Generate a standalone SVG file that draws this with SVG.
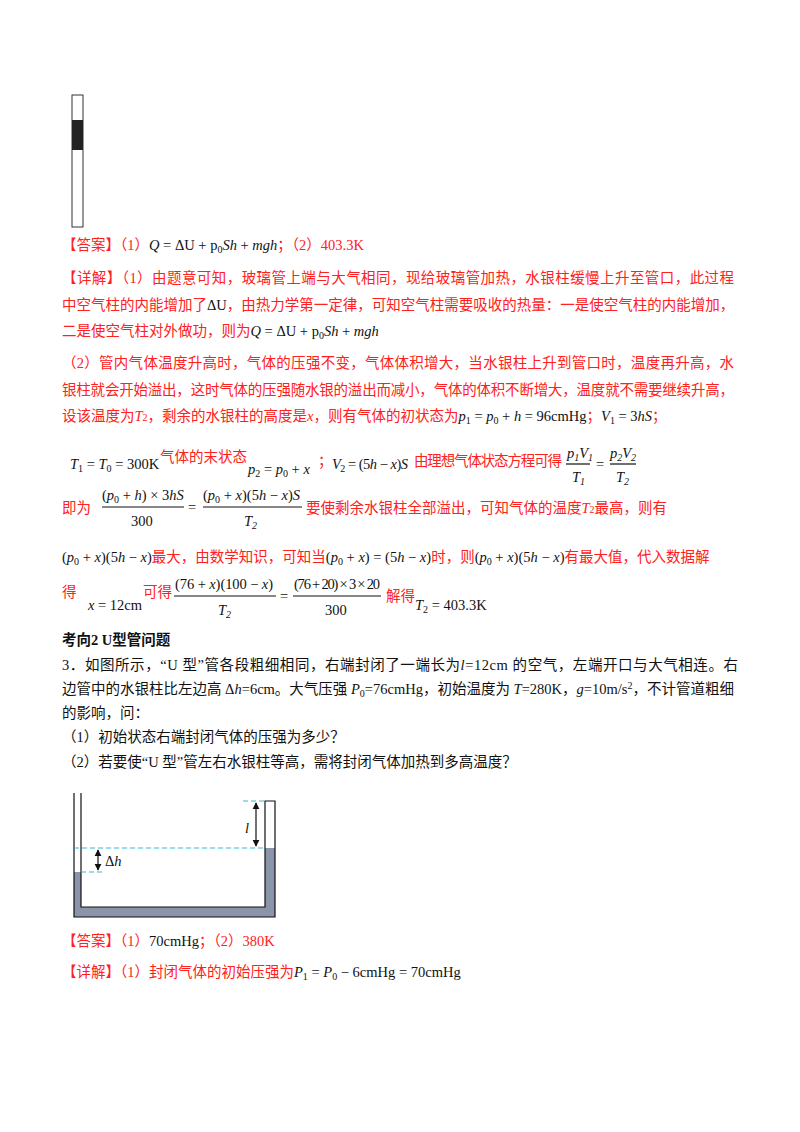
<svg xmlns="http://www.w3.org/2000/svg" width="800" height="1132" viewBox="0 0 800 1132">
<defs>
<style>
text{font-family:"Liberation Serif","Noto Sans CJK SC",serif;font-size:14.5px}
.r{fill:#ff2020}
.k{fill:#111}
.m{font-family:"Liberation Serif",serif;fill:#111}
.i{font-style:italic}
.b{font-weight:bold}
.sm{font-size:10px}
.dash{stroke:#3bb6d6;stroke-width:1;stroke-dasharray:5,3;fill:none}
.ln{stroke:#111;stroke-width:1.2;fill:none}
</style>
<marker id="ah" viewBox="0 0 10 10" refX="9" refY="5" markerWidth="6" markerHeight="6" orient="auto-start-reverse"><path d="M0,0L10,5L0,10z" fill="#111"/></marker>
</defs>
<rect width="800" height="1132" fill="#fff"/>
<g id="tube1">
<rect x="72" y="95" width="11" height="132" fill="#fff" stroke="#333" stroke-width="1"/>
<rect x="72" y="120" width="11" height="30" fill="#222"/>
</g>
<g id="text1">
<text x="62" y="250" class="r">【答案】（1）<tspan class="m i">Q</tspan><tspan class="m"> = ΔU + p</tspan><tspan class="m sm" dy="3">0</tspan><tspan class="m i" dy="-3">Sh</tspan><tspan class="m"> + </tspan><tspan class="m i">mgh</tspan>；（2）403.3K</text>
<text x="62" y="283" class="r" textLength="672">【详解】（1）由题意可知，玻璃管上端与大气相同，现给玻璃管加热，水银柱缓慢上升至管口，此过程</text>
<text x="62" y="310" class="r">中空气柱的内能增加了<tspan class="m">ΔU</tspan>，由热力学第一定律，可知空气柱需要吸收的热量：一是使空气柱的内能增加，</text>
<text x="62" y="336" class="r">二是使空气柱对外做功，则为<tspan class="m i">Q</tspan><tspan class="m"> = ΔU + p</tspan><tspan class="m sm" dy="3">0</tspan><tspan class="m i" dy="-3">Sh</tspan><tspan class="m"> + </tspan><tspan class="m i">mgh</tspan></text>
<text x="62" y="368" class="r" textLength="672">（2）管内气体温度升高时，气体的压强不变，气体体积增大，当水银柱上升到管口时，温度再升高，水</text>
<text x="62" y="395" class="r" textLength="672">银柱就会开始溢出，这时气体的压强随水银的溢出而减小，气体的体积不断增大，温度就不需要继续升高，</text>
<text x="62" y="421" class="r">设该温度为<tspan class="i">T</tspan><tspan class="sm">2</tspan>，剩余的水银柱的高度是<tspan class="i">x</tspan>，则有气体的初状态为<tspan class="m i">p</tspan><tspan class="m sm" dy="3">1</tspan><tspan class="m" dy="-3"> = </tspan><tspan class="m i">p</tspan><tspan class="m sm" dy="3">0</tspan><tspan class="m" dy="-3"> + </tspan><tspan class="m i">h</tspan><tspan class="m"> = 96cmHg</tspan>；<tspan class="m i">V</tspan><tspan class="m sm" dy="3">1</tspan><tspan class="m" dy="-3"> = 3</tspan><tspan class="m i">hS</tspan>；</text>
<text x="70" y="469" class="m"><tspan class="i">T</tspan><tspan class="sm" dy="3">1</tspan><tspan dy="-3"> = </tspan><tspan class="i">T</tspan><tspan class="sm" dy="3">0</tspan><tspan dy="-3"> = 300K</tspan></text>
<text x="160" y="462" class="r">气体的末状态</text>
<text x="248" y="474" class="m"><tspan class="i">p</tspan><tspan class="sm" dy="3">2</tspan><tspan dy="-3"> = </tspan><tspan class="i">p</tspan><tspan class="sm" dy="3">0</tspan><tspan dy="-3"> + </tspan><tspan class="i">x</tspan></text>
<text x="318" y="466" class="r">；</text>
<text x="332" y="469" class="m" textLength="76"><tspan class="i">V</tspan><tspan class="sm" dy="3">2</tspan><tspan dy="-3"> = (5</tspan><tspan class="i">h</tspan><tspan> − </tspan><tspan class="i">x</tspan><tspan>)</tspan><tspan class="i">S</tspan></text>
<text x="414" y="466" class="r" textLength="148">由理想气体状态方程可得</text>
<text x="567" y="458" class="m i">p<tspan class="sm" dy="3">1</tspan><tspan dy="-3">V</tspan><tspan class="sm" dy="3">1</tspan></text>
<line x1="566" y1="464" x2="590" y2="464" class="ln" stroke-width="0.8"/>
<text x="572" y="482" class="m i">T<tspan class="sm" dy="3">1</tspan></text>
<text x="596" y="469" class="m">=</text>
<text x="610" y="458" class="m i">p<tspan class="sm" dy="3">2</tspan><tspan dy="-3">V</tspan><tspan class="sm" dy="3">2</tspan></text>
<line x1="610" y1="464" x2="636" y2="464" class="ln" stroke-width="0.8"/>
<text x="616" y="482" class="m i">T<tspan class="sm" dy="3">2</tspan></text>

<text x="62" y="513" class="r">即为</text>
<text x="102" y="500" class="m">(<tspan class="i">p</tspan><tspan class="sm" dy="3">0</tspan><tspan dy="-3"> + </tspan><tspan class="i">h</tspan>) × 3<tspan class="i">hS</tspan></text>
<line x1="102" y1="507" x2="184" y2="507" class="ln" stroke-width="0.8"/>
<text x="131" y="526" class="m">300</text>
<text x="188" y="512" class="m">=</text>
<text x="203" y="500" class="m">(<tspan class="i">p</tspan><tspan class="sm" dy="3">0</tspan><tspan dy="-3"> + </tspan><tspan class="i">x</tspan>)(5<tspan class="i">h</tspan> − <tspan class="i">x</tspan>)<tspan class="i">S</tspan></text>
<line x1="203" y1="507" x2="302" y2="507" class="ln" stroke-width="0.8"/>
<text x="244" y="526" class="m i">T<tspan class="sm" dy="3">2</tspan></text>
<text x="306" y="513" class="r">要使剩余水银柱全部溢出，可知气体的温度<tspan class="i">T</tspan><tspan class="sm">2</tspan>最高，则有</text>

<text x="62" y="562" class="r"><tspan class="m">(</tspan><tspan class="m i">p</tspan><tspan class="m sm" dy="3">0</tspan><tspan class="m" dy="-3"> + </tspan><tspan class="m i">x</tspan><tspan class="m">)(5</tspan><tspan class="m i">h</tspan><tspan class="m"> − </tspan><tspan class="m i">x</tspan><tspan class="m">)</tspan>最大，由数学知识，可知当<tspan class="m">(</tspan><tspan class="m i">p</tspan><tspan class="m sm" dy="3">0</tspan><tspan class="m" dy="-3"> + </tspan><tspan class="m i">x</tspan><tspan class="m">) = (5</tspan><tspan class="m i">h</tspan><tspan class="m"> − </tspan><tspan class="m i">x</tspan><tspan class="m">)</tspan>时，则<tspan class="m">(</tspan><tspan class="m i">p</tspan><tspan class="m sm" dy="3">0</tspan><tspan class="m" dy="-3"> + </tspan><tspan class="m i">x</tspan><tspan class="m">)(5</tspan><tspan class="m i">h</tspan><tspan class="m"> − </tspan><tspan class="m i">x</tspan><tspan class="m">)</tspan>有最大值，代入数据解</text>

<text x="62" y="597" class="r">得</text>
<text x="88" y="610" class="m"><tspan class="i">x</tspan> = 12cm</text>
<text x="143" y="597" class="r">可得</text>
<text x="175" y="589" class="m" textLength="98">(76 + <tspan class="i">x</tspan>)(100 − <tspan class="i">x</tspan>)</text>
<line x1="174" y1="596" x2="276" y2="596" class="ln" stroke-width="0.8"/>
<text x="218" y="615" class="m i">T<tspan class="sm" dy="3">2</tspan></text>
<text x="280" y="601" class="m">=</text>
<text x="294" y="589" class="m" textLength="86">(76 + 20) × 3 × 20</text>
<line x1="293" y1="596" x2="381" y2="596" class="ln" stroke-width="0.8"/>
<text x="325" y="615" class="m">300</text>
<text x="386" y="601" class="r">解得</text>
<text x="415" y="610" class="m"><tspan class="i">T</tspan><tspan class="sm" dy="3">2</tspan><tspan dy="-3"> = 403.3K</tspan></text>
</g>
<g id="question">
<text x="62" y="645" class="k b">考向2 U型管问题</text>
<text x="62" y="670" class="k" textLength="676">3．如图所示，“U 型”管各段粗细相同，右端封闭了一端长为<tspan class="i">l</tspan>=12cm 的空气，左端开口与大气相连。右</text>
<text x="62" y="694" class="k">边管中的水银柱比左边高 Δ<tspan class="i">h</tspan>=6cm。大气压强 <tspan class="i">P</tspan><tspan class="sm" dy="3">0</tspan><tspan dy="-3">=76cmHg，初始温度为 </tspan><tspan class="i">T</tspan>=280K，<tspan class="i">g</tspan>=10m/s<tspan class="sm" dy="-5">2</tspan><tspan dy="5">，不计管道粗细</tspan></text>
<text x="62" y="718" class="k">的影响，问：</text>
<text x="62" y="742" class="k">（1）初始状态右端封闭气体的压强为多少？</text>
<text x="62" y="767" class="k">（2）若要使“U 型”管左右水银柱等高，需将封闭气体加热到多高温度？</text>
</g>
<g id="utube">
<path d="M74,872 L74,917 L275,917 L275,848 L265,848 L265,907 L81,907 L81,872 Z" fill="#8b95aa"/>
<path d="M74,793 L74,917 L275,917 L275,801 L265,801 L265,907 L81,907 L81,793" class="ln" stroke="#333"/>
<line x1="74" y1="848" x2="265" y2="848" class="dash"/>
<line x1="81" y1="872" x2="105" y2="872" class="dash"/>
<line x1="243" y1="801" x2="265" y2="801" class="dash"/>
<line x1="256" y1="803" x2="256" y2="846" class="ln" marker-start="url(#ah)" marker-end="url(#ah)"/>
<line x1="98" y1="850" x2="98" y2="870" class="ln" marker-start="url(#ah)" marker-end="url(#ah)"/>
<text x="245" y="833" class="m i" font-size="17">l</text>
<text x="105" y="866" class="m" font-size="17">Δ<tspan class="i">h</tspan></text>
</g>
<g id="answer2">
<text x="62" y="946" class="r">【答案】（1）<tspan class="m">70cmHg</tspan>；（2）380K</text>
<text x="62" y="977" class="r">【详解】（1）封闭气体的初始压强为<tspan class="m i">P</tspan><tspan class="m sm" dy="3">1</tspan><tspan class="m" dy="-3"> = </tspan><tspan class="m i">P</tspan><tspan class="m sm" dy="3">0</tspan><tspan class="m" dy="-3"> − 6cmHg = 70cmHg</tspan></text>
</g>
</svg>
